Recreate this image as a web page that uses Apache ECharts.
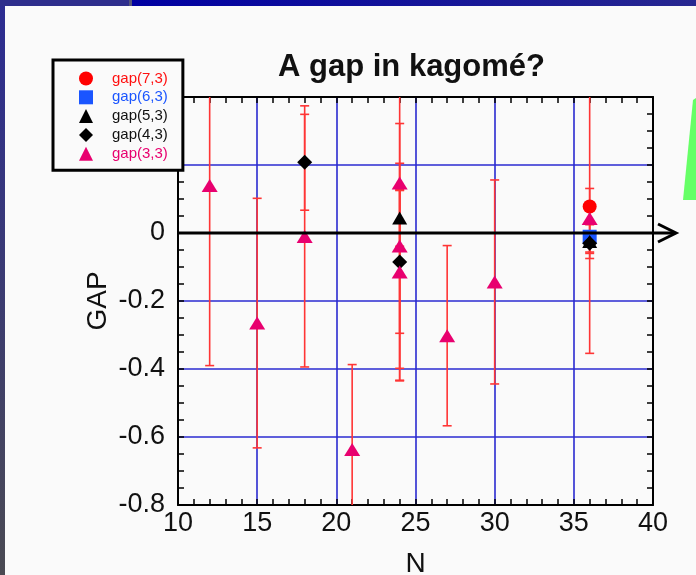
<!DOCTYPE html>
<html>
<head>
<meta charset="utf-8">
<title>A gap in kagomé?</title>
<script src="https://cdn.jsdelivr.net/npm/echarts@6/dist/echarts.min.js"></script>
<style>
  html, body { margin: 0; padding: 0; background: #fafafa; }
  #chart { width: 696px; height: 575px; }
</style>
</head>
<body>
<div id="chart"></div>
<script>
// values
var n33 = [12, 15, 18, 21, 24, 24, 24, 27, 30, 36]
var gap33 = [0.14, -0.265, -0.01, -0.637, 0.147, -0.038, -0.115, -0.302, -0.144, 0.043]
var err33 = [0.53, 0.367, 0.384, 0.25, 0.58, 0.36, 0.32, 0.265, 0.30, 0.397]

var n43 = [18, 24, 36]
var gap43 = [0.208, -0.085, -0.03]
var err43 = [0.141, 0.21, 0.03]

var n53 = [24, 36]
var gap53 = [0.044, -0.025]
var err53 = [0.083, 0.05]

var n63 = [36]
var gap63 = [-0.011]
var err63 = [0.045]

var n73 = [36]
var gap73 = [0.078]
var err73 = [0.053]

var xTicks = [10, 15, 20, 25, 30, 35, 40]
var yTicks = [-0.8, -0.6, -0.4, -0.2, 0, 0.2, 0.4]

var X_MIN = 10, X_MAX = 40
var Y_MIN = -0.8, Y_MAX = 0.4
var FONT = '"Liberation Sans", Arial, Helvetica, sans-serif'
var ERR_COLOR = '#ff3535'
var GRID_COLOR = '#2a2ad0'

function pts(ns, vals) {
  return ns.map(function(n, i) { return [n, vals[i]] })
}
function bars(ns, vals, errs) {
  return ns.map(function(n, i) { return [n, vals[i] - errs[i], vals[i] + errs[i]] })
}

function renderErr(params, api) {
  var x = api.value(0)
  var lo = api.value(1)
  var hi = api.value(2)
  var top = api.coord([x, Math.min(hi, Y_MAX)])
  var bot = api.coord([x, Math.max(lo, Y_MIN)])
  var st = { stroke: ERR_COLOR, lineWidth: 1.6 }
  var kids = [{ type: 'line', shape: { x1: top[0], y1: top[1], x2: bot[0], y2: bot[1] }, style: st }]
  if (hi <= Y_MAX) {
    kids.push({ type: 'line', shape: { x1: top[0] - 4.5, y1: top[1], x2: top[0] + 4.5, y2: top[1] }, style: st })
  }
  if (lo >= Y_MIN) {
    kids.push({ type: 'line', shape: { x1: bot[0] - 4.5, y1: bot[1], x2: bot[0] + 4.5, y2: bot[1] }, style: st })
  }
  return { type: 'group', children: kids }
}

function errSeries(name, data) {
  return {
    name: name,
    type: 'custom',
    renderItem: renderErr,
    data: data,
    z: 2,
    silent: true,
    animation: false
  }
}

function scatter(name, data, symbol, size, color) {
  return {
    name: name,
    type: 'scatter',
    data: data,
    symbol: symbol,
    symbolSize: size,
    itemStyle: { color: color, opacity: 1 },
    z: 3,
    animation: false
  }
}

var axisBase = {
  type: 'value',
  axisLine: { show: true, onZero: false, lineStyle: { color: '#000', width: 2 } },
  axisTick: { show: true, inside: true, length: 6, lineStyle: { color: '#000', width: 1.5 } },
  minorTick: { show: true, length: 6, lineStyle: { color: '#000', width: 1.5 } },
  minorSplitLine: { show: false }
}

var chart = echarts.init(document.getElementById('chart'))

chart.setOption({
  backgroundColor: '#fafafa',
  animation: false,
  textStyle: { fontFamily: FONT },
  title: {
    text: 'A gap in kagomé?',
    left: 278,
    top: 52,
    padding: 0,
    textStyle: { fontSize: 31, fontWeight: 'bold', color: '#111', fontFamily: FONT }
  },
  legend: {
    orient: 'vertical',
    left: 53,
    top: 60,
    padding: [11, 15, 9, 26],
    itemWidth: 14,
    itemHeight: 14,
    itemGap: 3.8,
    symbolKeepAspect: true,
    backgroundColor: '#fafafa',
    borderColor: '#000',
    borderWidth: 3,
    borderRadius: 0,
    textStyle: { fontSize: 15, fontFamily: FONT, padding: [0, 0, 0, 14] },
    data: [
      { name: 'gap(7,3)', textStyle: { color: '#ff1010' } },
      { name: 'gap(6,3)', textStyle: { color: '#1a55ff' } },
      { name: 'gap(5,3)', textStyle: { color: '#111' } },
      { name: 'gap(4,3)', textStyle: { color: '#111' } },
      { name: 'gap(3,3)', textStyle: { color: '#e8006f' } }
    ],
    z: 10
  },
  grid: { left: 178, right: 43, top: 97, bottom: 70, outerBoundsMode: 'none', containLabel: false },
  xAxis: [
    Object.assign({}, axisBase, {
      min: X_MIN, max: X_MAX, interval: 5, position: 'bottom',
      minorTick: Object.assign({}, axisBase.minorTick, { splitNumber: 5 }),
      splitLine: { show: true, lineStyle: { color: GRID_COLOR, width: 1.6 } },
      axisLabel: { fontSize: 27, color: '#111', margin: 5, fontFamily: FONT },
      name: 'N',
      nameLocation: 'middle',
      nameGap: 45,
      nameMoveOverlap: false,
      nameTextStyle: { fontSize: 28, color: '#111', fontFamily: FONT }
    }),
    Object.assign({}, axisBase, {
      min: X_MIN, max: X_MAX, interval: 5, position: 'top',
      minorTick: Object.assign({}, axisBase.minorTick, { splitNumber: 5 }),
      splitLine: { show: false },
      axisLabel: { show: false }
    })
  ],
  yAxis: [
    Object.assign({}, axisBase, {
      min: Y_MIN, max: Y_MAX, interval: 0.2, position: 'left',
      minorTick: Object.assign({}, axisBase.minorTick, { splitNumber: 4 }),
      splitLine: { show: true, lineStyle: { color: GRID_COLOR, width: 1.6 } },
      axisLabel: {
        fontSize: 27, color: '#111', margin: 13, fontFamily: FONT,
        formatter: function(v) {
          if (v > 0.001) return ''
          if (Math.abs(v) < 0.001) return '0'
          return v.toFixed(1)
        }
      },
      name: 'GAP',
      nameLocation: 'middle',
      nameGap: 66,
      nameRotate: 90,
      nameMoveOverlap: false,
      nameTextStyle: { fontSize: 28, color: '#111', fontFamily: FONT }
    }),
    Object.assign({}, axisBase, {
      min: Y_MIN, max: Y_MAX, interval: 0.2, position: 'right',
      minorTick: Object.assign({}, axisBase.minorTick, { splitNumber: 4 }),
      splitLine: { show: false },
      axisLabel: { show: false }
    })
  ],
  series: [
    errSeries('err73', bars(n73, gap73, err73)),
    errSeries('err63', bars(n63, gap63, err63)),
    errSeries('err53', bars(n53, gap53, err53)),
    errSeries('err43', bars(n43, gap43, err43)),
    errSeries('err33', bars(n33, gap33, err33)),
    scatter('gap(7,3)', pts(n73, gap73), 'circle', 14, '#ff0000'),
    scatter('gap(6,3)', pts(n63, gap63), 'rect', 14, '#1a55ff'),
    scatter('gap(5,3)', pts(n53, gap53), 'triangle', [15, 13], '#000'),
    scatter('gap(4,3)', pts(n43, gap43), 'diamond', [15, 15], '#000'),
    scatter('gap(3,3)', pts(n33, gap33), 'triangle', [16, 13], '#e8006f')
  ]
})

// slide decoration: frame bars, the zero arrow and the green shape
var y0 = chart.convertToPixel({ yAxisIndex: 0 }, 0)
var xLeft = chart.convertToPixel({ xAxisIndex: 0 }, X_MIN)
var xRight = chart.convertToPixel({ xAxisIndex: 0 }, X_MAX)
var tip = xRight + 23

chart.setOption({
  graphic: [
    {
      type: 'rect', left: 0, top: 0, z: 100,
      shape: { width: 5, height: 575 },
      style: { fill: new echarts.graphic.LinearGradient(0, 0, 0, 1, [
        { offset: 0, color: '#2c2c92' }, { offset: 1, color: '#4a4a52' }
      ]) }
    },
    {
      type: 'rect', left: 0, top: 0, z: 100,
      shape: { width: 129, height: 6 },
      style: { fill: '#2e2e8c' }
    },
    {
      type: 'rect', left: 129, top: 0, z: 100,
      shape: { width: 3, height: 6 },
      style: { fill: '#55557a' }
    },
    {
      type: 'rect', left: 132, top: 0, z: 100,
      shape: { width: 564, height: 6 },
      style: { fill: new echarts.graphic.LinearGradient(0, 0, 1, 0, [
        { offset: 0, color: '#0000a2' }, { offset: 1, color: '#272790' }
      ]) }
    },
    {
      type: 'line', z: 50,
      shape: { x1: xLeft, y1: y0, x2: tip - 1, y2: y0 },
      style: { stroke: '#000', lineWidth: 3 }
    },
    {
      type: 'polyline', z: 50,
      shape: { points: [[tip - 18, y0 - 9], [tip, y0], [tip - 18, y0 + 9]] },
      style: { stroke: '#000', lineWidth: 3, fill: null }
    },
    {
      type: 'polygon', z: 50,
      shape: { points: [[693, 100], [696, 98], [696, 200], [683, 200]] },
      style: { fill: '#66ff66' }
    }
  ]
})
</script>
</body>
</html>
